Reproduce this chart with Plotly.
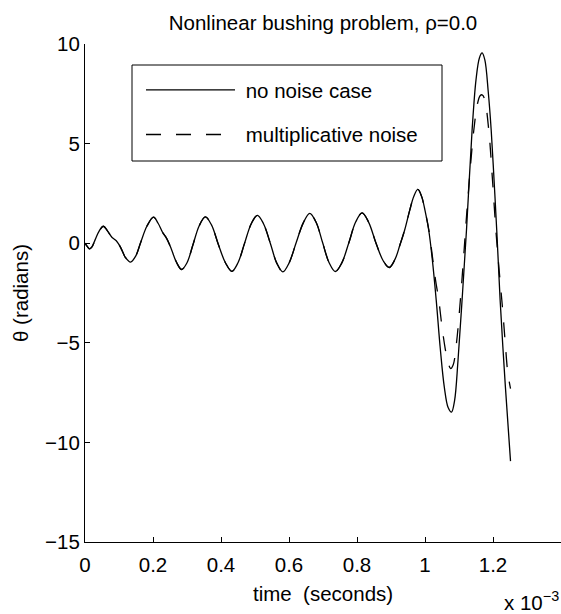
import plotly.graph_objects as go

# ---- data (time in milliseconds, plotted in seconds; theta in radians) ----
shared_time_ms = [0.000, 0.007, 0.013, 0.020, 0.030, 0.042, 0.054, 0.066, 0.079, 0.092,
                  0.105, 0.119, 0.134, 0.149, 0.164, 0.182, 0.2015, 0.215, 0.228, 0.240,
                  0.253, 0.268, 0.284, 0.300, 0.318, 0.336, 0.354, 0.372, 0.392, 0.413,
                  0.432, 0.450, 0.469, 0.489, 0.507, 0.525, 0.545, 0.564, 0.582, 0.600,
                  0.621, 0.642, 0.661, 0.680, 0.699, 0.718, 0.736, 0.755, 0.776, 0.796,
                  0.815, 0.834, 0.856, 0.877, 0.895, 0.912, 0.926, 0.940, 0.955, 0.967,
                  0.979, 0.990]
shared_theta = [0.00, -0.17, -0.28, -0.20, 0.18, 0.62, 0.85, 0.62, 0.30, 0.12,
                -0.22, -0.72, -0.95, -0.65, 0.05, 0.85, 1.31, 1.00, 0.55, 0.24,
                -0.25, -0.92, -1.32, -0.98, -0.05, 0.88, 1.32, 0.92, -0.05, -0.98,
                -1.41, -0.98, -0.02, 0.98, 1.40, 0.98, 0.00, -1.00, -1.44, -1.00,
                0.02, 1.02, 1.50, 1.04, 0.02, -0.98, -1.42, -1.00, 0.02, 1.06,
                1.52, 1.06, 0.00, -0.88, -1.22, -0.80, -0.10, 0.65, 1.65, 2.35,
                2.70, 2.35]

nonoise_tail_time_ms = [1.000, 1.011, 1.022, 1.033, 1.045, 1.057, 1.068, 1.078, 1.087, 1.097,
                        1.109, 1.122, 1.1385, 1.150, 1.160, 1.168, 1.176, 1.186, 1.1947, 1.203,
                        1.211, 1.221, 1.236, 1.2515]
nonoise_tail_theta = [1.65, 0.65, -0.90, -2.86, -5.30, -7.25, -8.25, -8.48, -7.90, -5.90,
                      -2.86, 0.65, 5.67, 8.20, 9.30, 9.55, 9.20, 7.60, 5.67, 3.20,
                      0.65, -2.86, -7.10, -10.94]

mult_tail_time_ms = [1.000, 1.011, 1.022, 1.031, 1.0406, 1.050, 1.060, 1.068, 1.0755, 1.083,
                     1.092, 1.104, 1.114, 1.125, 1.1435, 1.155, 1.162, 1.168, 1.175, 1.1876,
                     1.198, 1.2085, 1.218, 1.228, 1.236, 1.2435, 1.2515]
mult_tail_theta = [1.62, 0.70, -0.70, -1.85, -2.86, -4.20, -5.35, -6.00, -6.29, -6.10,
                   -5.10, -2.86, -0.60, 2.00, 5.67, 7.05, 7.40, 7.45, 7.25, 5.67,
                   3.30, 0.65, -1.35, -3.26, -5.00, -6.50, -7.30]

x_tick_vals_ms = [0, 0.2, 0.4, 0.6, 0.8, 1.0, 1.2]
x_tick_text = ["0", "0.2", "0.4", "0.6", "0.8", "1", "1.2"]
y_tick_vals = [-15, -10, -5, 0, 5, 10]
y_tick_text = ["\u221215", "\u221210", "\u22125", "0", "5", "10"]

series_names = ["no noise case", "multiplicative noise"]

# ---- build ----
t_nonoise = [v * 1e-3 for v in shared_time_ms + nonoise_tail_time_ms]
th_nonoise = shared_theta + nonoise_tail_theta
t_mult = [v * 1e-3 for v in shared_time_ms + mult_tail_time_ms]
th_mult = shared_theta + mult_tail_theta

FONT = "Liberation Sans, Arial, Helvetica, sans-serif"
FS = 20.5

# pixel helpers for the plot area (left 85, right 561, top 44, bottom 542)
PL, PR, PT, PB = 85, 561, 44, 542
def px_x(p):
    return (p - PL) / (PR - PL)
def px_y(p):
    return (PB - p) / (PB - PT)

fig = go.Figure()
fig.add_trace(go.Scatter(x=t_nonoise, y=th_nonoise, mode="lines",
                         name="\u00a0" + series_names[0], legendgroup="a",
                         line=dict(color="black", width=1.3, shape="spline", smoothing=1)))
fig.add_trace(go.Scatter(x=t_mult, y=th_mult, mode="lines",
                         name="\u00a0" + series_names[1], legendgroup="b",
                         line=dict(color="black", width=1.3, shape="spline", smoothing=1,
                                   dash="15px,15px")))

axis_common = dict(showline=True, linecolor="black", linewidth=1, mirror=False,
                   ticks="inside", ticklen=5, tickcolor="black", tickwidth=1,
                   showgrid=False, zeroline=False,
                   tickfont=dict(family=FONT, size=FS, color="black"))

fig.update_layout(
    width=561, height=614,
    margin=dict(l=PL, r=0, t=PT, b=614 - PB),
    paper_bgcolor="white", plot_bgcolor="white",
    font=dict(family=FONT, size=FS, color="black"),
    title=dict(text="Nonlinear bushing problem, \u03c1=0.0", x=0.5, xref="paper",
               xanchor="center", y=1 - 23 / 614, yref="container", yanchor="middle",
               font=dict(family=FONT, size=FS, color="black")),
    xaxis=dict(range=[0, 1.4e-3], tickvals=[v * 1e-3 for v in x_tick_vals_ms],
               ticktext=x_tick_text, ticklabelstandoff=4, **axis_common),
    yaxis=dict(range=[-15, 10], tickvals=y_tick_vals, ticktext=y_tick_text,
               **axis_common),
    showlegend=True,
    legend=dict(x=px_x(141), y=px_y(70), xanchor="left", yanchor="top",
                bgcolor="rgba(0,0,0,0)", borderwidth=0,
                font=dict(family=FONT, size=FS, color="black"),
                itemwidth=89, traceorder="grouped", tracegroupgap=15),
    shapes=[dict(type="rect", xref="paper", yref="paper",
                 x0=px_x(132), x1=px_x(442), y0=px_y(161), y1=px_y(65),
                 line=dict(color="black", width=1), fillcolor="white", layer="above")],
    annotations=[
        dict(text="time\u00a0 (seconds)", xref="paper", yref="paper", x=0.5,
             y=px_y(593), xanchor="center", yanchor="middle", showarrow=False,
             font=dict(family=FONT, size=FS, color="black")),
        dict(text="x 10<sup>\u22123</sup>", xref="paper", yref="paper", x=1.0,
             y=px_y(601), xanchor="right", yanchor="middle", showarrow=False,
             font=dict(family=FONT, size=FS, color="black")),
        dict(text="\u03b8 (radians)", xref="paper", yref="paper", x=px_x(20),
             y=0.5, xanchor="center", yanchor="middle", textangle=-90, showarrow=False,
             font=dict(family=FONT, size=FS, color="black")),
    ],
)

fig.write_html("out.html")
